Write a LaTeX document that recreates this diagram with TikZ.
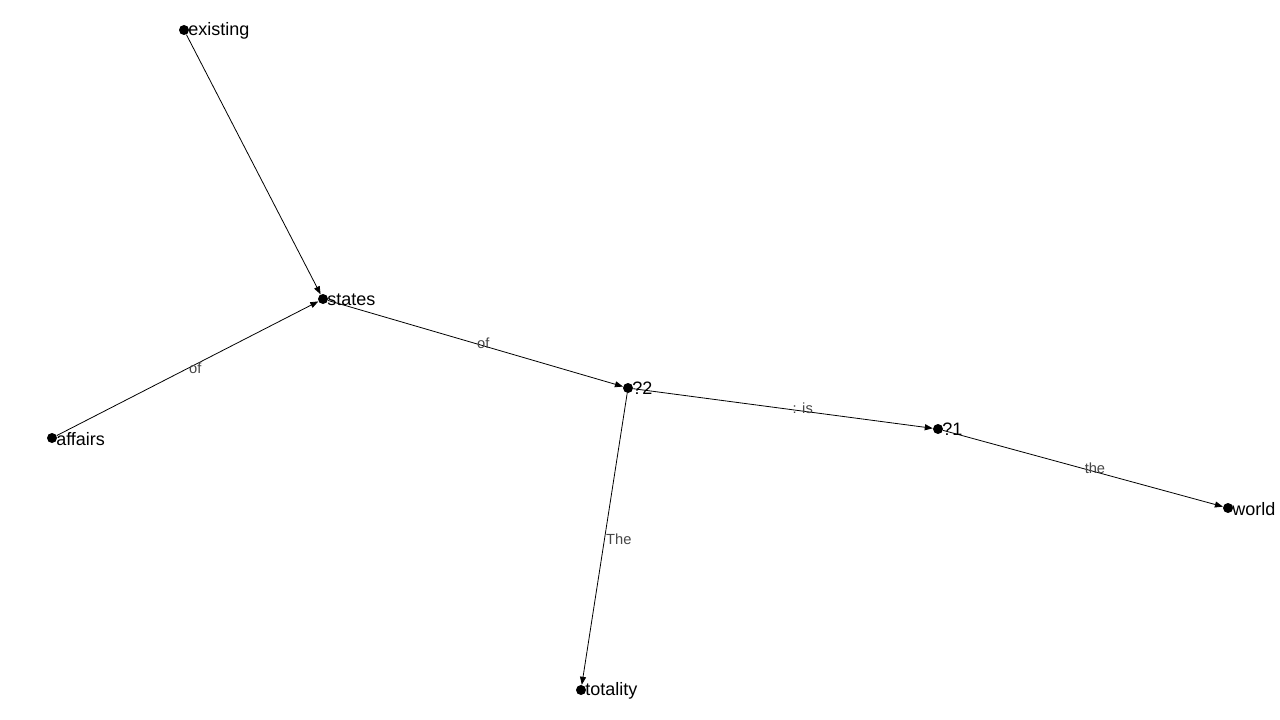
\documentclass[tikz,border=0pt]{standalone}
\usepackage{fontspec}
\setmainfont{Liberation Sans}
\usetikzlibrary{arrows.meta}
\definecolor{lblgray}{RGB}{70,70,70}
\begin{document}
\begin{tikzpicture}[x=0.75pt,y=-0.75pt,
  dot/.style={circle,fill=black,inner sep=0pt,minimum size=7.5pt},
  nlabel/.style={anchor=west,inner sep=0pt,font=\fontsize{13.5}{15}\selectfont,xshift=3pt,yshift=-0.5pt},
  edge/.style={-{Triangle[length=6pt,width=4.5pt]},line width=0.6pt,shorten >=0pt},
  elabel/.style={anchor=west,inner sep=1pt,font=\fontsize{11}{13}\selectfont,text=lblgray}]
\useasboundingbox (0,0) rectangle (1280,720);
\node[dot] (existing) at (184,30) {};
\node[dot] (states) at (323,299) {};
\node[dot] (affairs) at (52,438) {};
\node[dot] (q2) at (628,388) {};
\node[dot] (q1) at (938,429) {};
\node[dot] (world) at (1228,508) {};
\node[dot] (totality) at (581,690) {};
\node[nlabel] (lexisting) at (existing.center) {existing};
\node[nlabel] (lstates) at (states.center) {states};
\node[nlabel] (laffairs) at (affairs.center) {affairs};
\node[nlabel] (lq2) at (q2.center) {?2};
\node[nlabel] (lq1) at (q1.center) {?1};
\node[nlabel] (lworld) at (world.center) {world};
\node[nlabel] (ltotality) at (totality.center) {totality};
\draw[edge] (existing) -- (states);
\draw[edge] (affairs) -- (states) node[pos=0.5,elabel] {of};
\draw[edge] (states) -- (q2) node[pos=0.5,elabel] {of};
\draw[edge] (q2) -- (q1) node[pos=0.5,elabel,xshift=6pt] {: is};
\draw[edge] (q1) -- (world) node[pos=0.5,elabel] {the};
\draw[edge] (q2) -- (totality) node[pos=0.5,elabel] {The};
\end{tikzpicture}
\end{document}
